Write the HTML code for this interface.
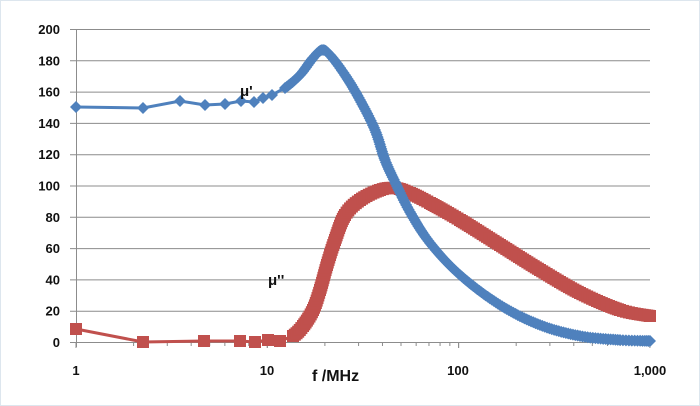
<!DOCTYPE html>
<html><head><meta charset="utf-8"><style>
body{margin:0;background:#fff;}
svg{display:block;}
text{font-family:"Liberation Sans",sans-serif;font-size:13px;fill:#111;font-weight:bold;}
</style></head><body>
<svg id="s" width="700" height="406" xmlns="http://www.w3.org/2000/svg">
<rect x="0.5" y="0.5" width="699" height="405" fill="#fff" stroke="#dde6ee"/>
<g id="grid" stroke="#8c8c8c" stroke-width="1"></g>
<g id="lbl"></g>
<g id="ser"></g>
<text x="240" y="96" style="font-size:15px">μ'</text>
<text x="268" y="285" style="font-size:15px">μ''</text>
<text x="312" y="381" style="font-size:16px">f /MHz</text>
</svg>
<script>
var ns="http://www.w3.org/2000/svg";
function el(p,t,a,txt){var e=document.createElementNS(ns,t);for(var k in a)e.setAttribute(k,a[k]);if(txt!==undefined)e.textContent=txt;p.appendChild(e);return e;}
var g=document.getElementById('grid'),L=document.getElementById('lbl'),S=document.getElementById('ser');
for(var i=0;i<=10;i++){var y=342-i*31.3;el(g,'line',{x1:70,x2:650,y1:y+.5,y2:y+.5});
el(L,'text',{x:60,y:y+5,'text-anchor':'end'},String(i*20));}
el(g,'line',{x1:76.5,x2:76.5,y1:29,y2:347});
for(var d=0;d<3;d++)for(var m=1;m<=10;m++){var x=76+191.3*(d+Math.log10(m));el(g,'line',{x1:x,x2:x,y1:342,y2:m==10||m==1?348:346});}
el(L,'text',{x:76,y:375,'text-anchor':'middle'},'1');
el(L,'text',{x:267,y:375,'text-anchor':'middle'},'10');
el(L,'text',{x:458,y:375,'text-anchor':'middle'},'100');
el(L,'text',{x:650,y:375,'text-anchor':'middle'},'1,000');
var blue=[[76,107],[143,108],[180,101],[205,105],[225,104],[241,101],[254,102],[263,98],[272,95],[285,88],[300,75],[313,58],[322,50],[330,55],[345,75],[360,100],[375,130],[385,160],[395,182],[410,212],[430,243],[460,275],[500,305],[540,325],[580,336],[620,340],[650,341]];
var red=[[76,329],[143,342],[204,341],[240,341],[255,342],[268,340],[280,341],[293,336],[303,326],[313,310],[320,290],[327,265],[335,240],[345,215],[360,200],[380,190],[395,188],[410,193],[430,203],[460,220],[500,245],[540,270],[580,293],[620,310],[650,316]];
function cr(p0,p1,p2,p3,t){var t2=t*t,t3=t2*t;return [0,1].map(j=>0.5*((2*p1[j])+(-p0[j]+p2[j])*t+(2*p0[j]-5*p1[j]+4*p2[j]-p3[j])*t2+(-p0[j]+3*p1[j]-3*p2[j]+p3[j])*t3));}
function draw(pts,col,shape,denseFrom){
function mk(x,y){if(shape=='d')el(S,'polygon',{points:(x-6)+','+y+' '+x+','+(y-6)+' '+(x+6)+','+y+' '+x+','+(y+6),fill:col});
else el(S,'rect',{x:x-6,y:y-6,width:12,height:12,fill:col});}
var line=[];
for(var i=0;i<pts.length-1;i++){var a=pts[i],b=pts[i+1];
 var p0=pts[Math.max(0,i-1)],p3=pts[Math.min(pts.length-1,i+2)];
 if(a[0]<denseFrom){line.push(a);mk(a[0],a[1]);continue;}
 var dl=Math.hypot(b[0]-a[0],b[1]-a[1]),n=Math.max(1,Math.round(dl/2.5));
 for(var k=0;k<n;k++){var q=cr(p0,a,b,p3,k/n);line.push(q);mk(q[0],q[1]);}}
var l=pts[pts.length-1];line.push(l);mk(l[0],l[1]);
S.insertBefore(el(S,'polyline',{points:line.map(p=>p.join(',')).join(' '),fill:'none',stroke:col,'stroke-width':3}),S.firstChild);}
draw(red,'#c0504d','s',290);
var gb=document.createElementNS(ns,'g');S.appendChild(gb);var S0=S;S=gb;
draw(blue,'#4f81bd','d',280);
</script>
</body></html>
